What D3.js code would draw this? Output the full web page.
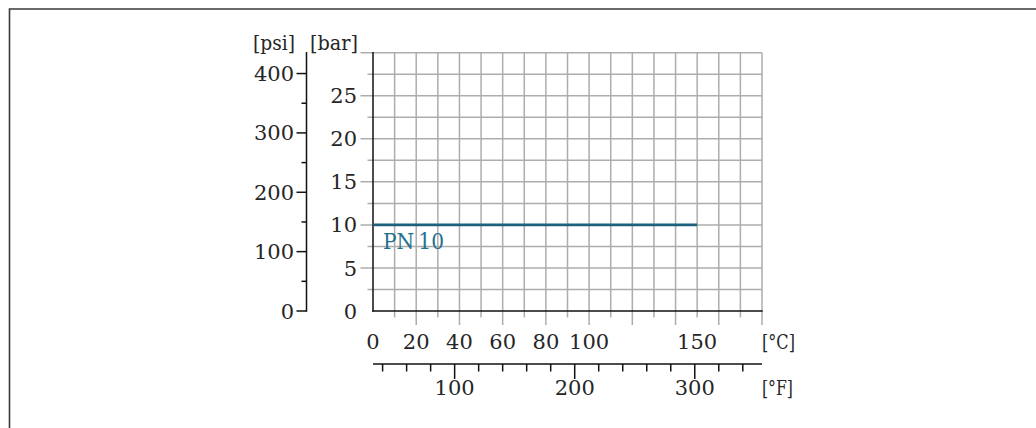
<!DOCTYPE html>
<html><head><meta charset="utf-8">
<script src="https://cdn.jsdelivr.net/npm/d3@7"></script>
<style>
html,body{margin:0;padding:0;background:#fff;}
svg{display:block;}
text{font-family:"DejaVu Serif",serif;fill:#262626;}
</style></head>
<body>
<svg id="c" width="1036" height="428"></svg>
<script>
// ---- data ----
const celsiusTicks = [0, 20, 40, 60, 80, 100, 150];
const fahrenheitLabels = [100, 200, 300];
const fahrenheitTicks = [40, 60, 80, 100, 120, 140, 160, 180, 200, 220, 240, 260, 280, 300, 320, 340];
const barLabels = [0, 5, 10, 15, 20, 25];
const psiLabels = [0, 100, 200, 300, 400];
const psiTicks = [0, 50, 100, 150, 200, 250, 300, 350, 400];
const seriesName = "PN\u200910";
const seriesTemp = [0, 150];      // °C
const seriesPressure = [10, 10];  // bar

const FS = 21;
const svg = d3.select("#c");
const x = d3.scaleLinear().domain([0, 180]).range([373, 762]);
const y = d3.scaleLinear().domain([0, 30]).range([311, 52.7]);
const yPsi = d3.scaleLinear().domain([0, 30 * 14.5038]).range([311, 52.7]);
const xF = d3.scaleLinear().domain([32, 32 + 180 * 1.8]).range([373, 762]);

// frame
svg.append("path").attr("d", "M9.5,428 V9 H1036").attr("fill", "none")
  .attr("stroke", "#3a3a3a").attr("stroke-width", 1.6);

const gridColor = "#adadad";
// vertical grid lines
d3.range(10, 181, 10).forEach(t => {
  const major = t % 20 === 0;
  svg.append("line").attr("x1", x(t)).attr("x2", x(t))
    .attr("y1", y(30)).attr("y2", major ? 325 : 317.5)
    .attr("stroke", gridColor).attr("stroke-width", 1.5);
});
// horizontal grid lines
d3.range(2.5, 30.01, 2.5).forEach(b => {
  const major = Math.abs(b % 5) < 1e-6;
  svg.append("line").attr("y1", y(b)).attr("y2", y(b))
    .attr("x1", major ? 360.5 : 367.5).attr("x2", x(180))
    .attr("stroke", gridColor).attr("stroke-width", 1.5);
});
// main axes
svg.append("line").attr("x1", x(0)).attr("x2", x(0)).attr("y1", y(30) - 0.7).attr("y2", y(0) + 0.7)
  .attr("stroke", "#111").attr("stroke-width", 1.5);
svg.append("line").attr("x1", x(0) - 0.7).attr("x2", x(180) + 0.7).attr("y1", y(0)).attr("y2", y(0))
  .attr("stroke", "#111").attr("stroke-width", 1.5);

// series
svg.append("path")
  .attr("d", d3.line().x((d, i) => x(seriesTemp[i])).y(d => y(d))(seriesPressure))
  .attr("fill", "none").attr("stroke", "#1d5f7d").attr("stroke-width", 2.6);
svg.append("text").attr("x", 383).attr("y", 249).attr("font-size", 22)
  .attr("textLength", 61).attr("lengthAdjust", "spacingAndGlyphs")
  .style("fill", "#26708f").text(seriesName);

// bar labels
svg.selectAll(".bl").data(barLabels).enter().append("text")
  .attr("x", 357).attr("y", d => y(d)).attr("dy", "0.36em")
  .attr("text-anchor", "end").attr("font-size", FS).text(d => d);

// psi axis
svg.append("line").attr("x1", 306.5).attr("x2", 306.5).attr("y1", y(30) - 0.7).attr("y2", y(0) + 0.7)
  .attr("stroke", "#111").attr("stroke-width", 1.5);
psiTicks.forEach(p => {
  const major = p % 100 === 0;
  svg.append("line").attr("x1", major ? 296.5 : 301.5).attr("x2", 306.5)
    .attr("y1", yPsi(p)).attr("y2", yPsi(p)).attr("stroke", "#111").attr("stroke-width", 1.5);
});
svg.selectAll(".pl").data(psiLabels).enter().append("text")
  .attr("x", 294).attr("y", d => yPsi(d)).attr("dy", "0.36em")
  .attr("text-anchor", "end").attr("font-size", FS).text(d => d);

// headers
svg.append("text").attr("x", 253).attr("y", 50).attr("font-size", FS)
  .attr("textLength", 42).attr("lengthAdjust", "spacingAndGlyphs").text("[psi]");
svg.append("text").attr("x", 310).attr("y", 50).attr("font-size", FS)
  .attr("textLength", 48).attr("lengthAdjust", "spacingAndGlyphs").text("[bar]");

// celsius labels
svg.selectAll(".cl").data(celsiusTicks).enter().append("text")
  .attr("x", d => x(d)).attr("y", 349).attr("text-anchor", "middle").attr("font-size", FS).text(d => d);
svg.append("text").attr("x", 762).attr("y", 349).attr("font-size", FS)
  .attr("textLength", 33).attr("lengthAdjust", "spacingAndGlyphs").text("[°C]");

// fahrenheit axis
svg.append("line").attr("x1", x(0)).attr("x2", x(180)).attr("y1", 364).attr("y2", 364)
  .attr("stroke", "#111").attr("stroke-width", 1.5);
fahrenheitTicks.forEach(f => {
  const major = fahrenheitLabels.includes(f);
  svg.append("line").attr("x1", xF(f)).attr("x2", xF(f)).attr("y1", 364).attr("y2", major ? 379 : 371.5)
    .attr("stroke", "#111").attr("stroke-width", 1.5);
});
svg.selectAll(".fl").data(fahrenheitLabels).enter().append("text")
  .attr("x", d => xF(d)).attr("y", 395).attr("text-anchor", "middle").attr("font-size", FS).text(d => d);
svg.append("text").attr("x", 762).attr("y", 395).attr("font-size", FS)
  .attr("textLength", 31).attr("lengthAdjust", "spacingAndGlyphs").text("[°F]");
</script>
</body></html>
